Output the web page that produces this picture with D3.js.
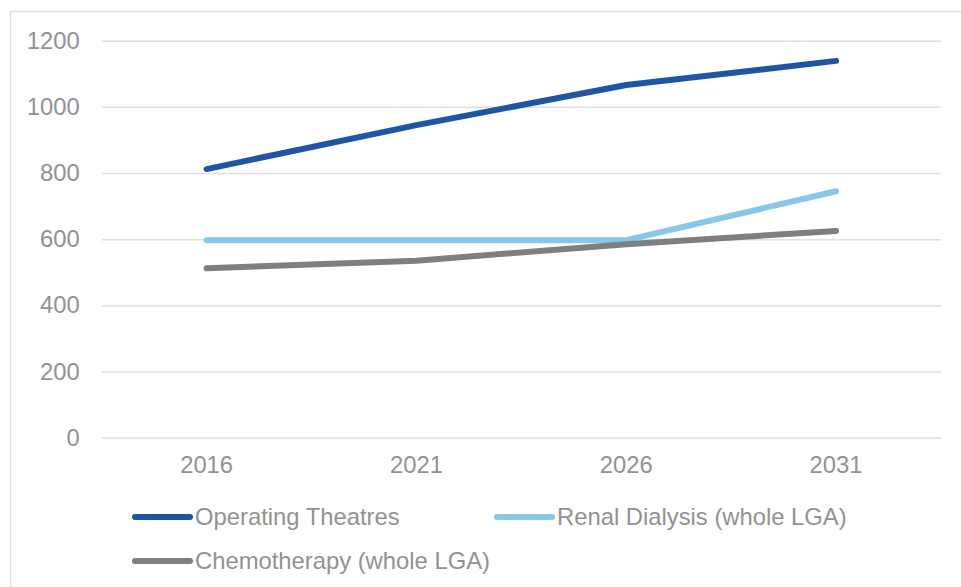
<!DOCTYPE html>
<html>
<head>
<meta charset="utf-8">
<script src="https://cdn.jsdelivr.net/npm/d3@7"></script>
<style>
  html, body { margin: 0; padding: 0; background: #fff; }
  svg { display: block; font-family: "Liberation Sans", Arial, sans-serif; }
</style>
</head>
<body>
<svg id="chart" width="961" height="587"></svg>
<script>
// Projected demand by service, five-yearly
const years = ["2016", "2021", "2026", "2031"];
const operatingTheatres = [812, 945, 1066, 1139];
const renalDialysis = [597, 597, 597, 745];
const chemotherapy = [512, 535, 585, 625];
const yTicks = [0, 200, 400, 600, 800, 1000, 1200];

const seriesNames = ["Operating Theatres", "Renal Dialysis (whole LGA)", "Chemotherapy (whole LGA)"];
const seriesColors = ["#1f55a5", "#87c8e8", "#7f7f7f"];
const seriesValues = [operatingTheatres, renalDialysis, chemotherapy];

const svg = d3.select("#chart");
const W = 961, H = 587;
const plot = { left: 101.7, right: 941, top: 40.7, bottom: 437.7 };
const textColor = "#929292";
const gridColor = "#e0e0e0";
const fontSize = 23.8;

// outer frame
svg.append("rect")
  .attr("x", 10.5).attr("y", 11.5)
  .attr("width", W).attr("height", H)
  .attr("fill", "none")
  .attr("stroke", "#dedede")
  .attr("stroke-width", 1.5);

const x = d3.scaleBand().domain(years).range([plot.left, plot.right]);
const y = d3.scaleLinear().domain([0, 1200]).range([plot.bottom, plot.top]);

// y axis with gridlines
const yAxis = svg.append("g")
  .attr("transform", `translate(${plot.left},0)`)
  .call(d3.axisLeft(y).tickValues(yTicks).tickSize(-(plot.right - plot.left)).tickPadding(22).tickFormat(d3.format("d")));
yAxis.select(".domain").remove();
yAxis.selectAll(".tick line").attr("stroke", gridColor).attr("stroke-width", 1.5);
yAxis.selectAll(".tick text")
  .attr("fill", textColor)
  .attr("font-size", fontSize)
  .attr("font-family", "Liberation Sans, Arial, sans-serif");

// x axis labels
const xAxis = svg.append("g")
  .attr("transform", `translate(0,${plot.bottom})`)
  .call(d3.axisBottom(x).tickSize(0).tickPadding(18));
xAxis.select(".domain").remove();
xAxis.selectAll(".tick text")
  .attr("fill", textColor)
  .attr("font-size", fontSize)
  .attr("font-family", "Liberation Sans, Arial, sans-serif");

// series lines
const line = d3.line()
  .x((d, i) => x(years[i]) + x.bandwidth() / 2)
  .y(d => y(d));

seriesValues.forEach((vals, k) => {
  svg.append("path")
    .datum(vals)
    .attr("d", line)
    .attr("fill", "none")
    .attr("stroke", seriesColors[k])
    .attr("stroke-width", 6)
    .attr("stroke-linecap", "round")
    .attr("stroke-linejoin", "round");
});

// legend
const legendPos = [
  { x: 135, y: 517 },
  { x: 497, y: 517 },
  { x: 135, y: 561 }
];
seriesNames.forEach((name, k) => {
  const g = svg.append("g").attr("transform", `translate(${legendPos[k].x},${legendPos[k].y})`);
  g.append("line")
    .attr("x1", 0).attr("x2", 55)
    .attr("y1", 0).attr("y2", 0)
    .attr("stroke", seriesColors[k])
    .attr("stroke-width", 6)
    .attr("stroke-linecap", "round");
  g.append("text")
    .attr("x", 60).attr("y", 0)
    .attr("dy", "0.35em")
    .attr("fill", textColor)
    .attr("font-size", fontSize)
    .text(name);
});
</script>
</body>
</html>
